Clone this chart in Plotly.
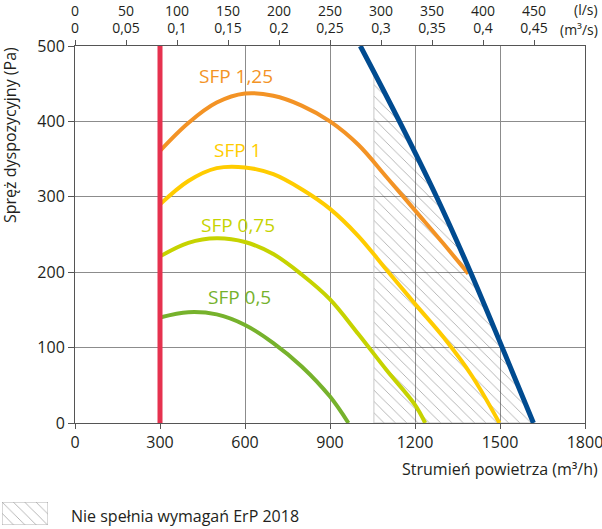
import numpy as np
import plotly.graph_objects as go

# ---------------- data ----------------
x_ticks = [0, 300, 600, 900, 1200, 1500, 1800]
y_ticks = [0, 100, 200, 300, 400, 500]
top_ls_vals = [0, 50, 100, 150, 200, 250, 300, 350, 400, 450]
top_ls_text = ["0", "50", "100", "150", "200", "250", "300", "350", "400", "450"]
top_m3s_text = ["0", "0,05", "0,1", "0,15", "0,2", "0,25", "0,3", "0,35", "0,4", "0,45"]

sfp125_x = [300, 400, 500, 600, 700, 800, 900, 1000, 1100, 1200, 1300, 1388]
sfp125_y = [361, 398, 425, 437, 434, 421, 400, 369, 326, 282, 238, 198]

sfp1_x = [300, 400, 500, 600, 700, 800, 900, 1000, 1100, 1200, 1300, 1400, 1498]
sfp1_y = [290, 321, 338, 339, 330, 310, 284, 248, 203, 158, 114, 63, 0]

sfp075_x = [300, 400, 500, 600, 700, 800, 900, 1000, 1100, 1200, 1236]
sfp075_y = [221, 239, 245, 240, 224, 197, 164, 118, 70, 24, 0]

sfp05_x = [300, 400, 500, 600, 700, 800, 900, 965]
sfp05_y = [140, 147, 144, 130, 106, 75, 35, 0]

max_curve_x = [1007, 1145, 1276, 1396, 1508, 1618]
max_curve_y = [500, 400, 300, 200, 100, 0]

min_flow = 300
erp_limit_flow = 1055

# ---------------- layout constants ----------------
W, H = 602, 529
PL, PR, PT, PB = 75, 585, 46, 423
FONT = "Open Sans"
FS = 16
FS_TOP = 14
TXT = "#231f20"
AX = "#555555"
GRID = "#8c8c8c"

fig = go.Figure()

# hatched area (not meeting ErP 2018)
y_at_limit = float(np.interp(erp_limit_flow, max_curve_x, max_curve_y))
hx = [erp_limit_flow, erp_limit_flow]
hy = [0, y_at_limit]
for xv, yv in zip(max_curve_x, max_curve_y):
    if xv > erp_limit_flow:
        hx.append(xv)
        hy.append(yv)
hx.append(erp_limit_flow)
hy.append(0)

pattern = dict(shape="\\", fgcolor="#4a4a4a", size=8, solidity=0.1)
fig.add_trace(go.Scatter(x=hx, y=hy, fill="toself", mode="lines",
                         line=dict(color="#c8c8c8", width=1),
                         fillcolor="rgba(255,255,255,0)",
                         fillpattern=pattern, showlegend=False, hoverinfo="skip"))

curves = [
    (sfp125_x, sfp125_y, "#f39325"),
    (sfp1_x, sfp1_y, "#ffcc00"),
    (sfp075_x, sfp075_y, "#c6d300"),
    (sfp05_x, sfp05_y, "#76b22c"),
]
for cx, cy, col in curves:
    fig.add_trace(go.Scatter(x=cx, y=cy, mode="lines",
                             line=dict(color=col, width=4, shape="spline", smoothing=1.0),
                             showlegend=False, hoverinfo="skip"))

fig.add_trace(go.Scatter(x=[min_flow, min_flow], y=[y_ticks[0], y_ticks[-1]], mode="lines",
                         line=dict(color="#e6324f", width=5),
                         showlegend=False, hoverinfo="skip"))
fig.add_trace(go.Scatter(x=max_curve_x, y=max_curve_y, mode="lines",
                         line=dict(color="#004b90", width=5, shape="spline", smoothing=1.0),
                         showlegend=False, hoverinfo="skip"))

# invisible traces to activate the two top axes
for ax in ("x2", "x4"):
    fig.add_trace(go.Scatter(x=[top_ls_vals[0]], y=[0], xaxis=ax, yaxis="y", mode="none",
                             showlegend=False, hoverinfo="skip"))

# legend swatch on a mini axis
fig.add_trace(go.Scatter(x=[0, 1, 1, 0, 0], y=[0, 0, 1, 1, 0], xaxis="x3", yaxis="y3",
                         fill="toself", mode="lines", line=dict(color="#b0b0b0", width=1),
                         fillcolor="rgba(255,255,255,0)", fillpattern=pattern,
                         showlegend=False, hoverinfo="skip"))

tickfont = dict(family=FONT, size=FS, color=TXT)
topfont = dict(family=FONT, size=FS_TOP, color=TXT)
common = dict(automargin=False, fixedrange=True, zeroline=False, ticklabeloverflow="allow")

fig.update_layout(
    width=W, height=H,
    margin=dict(l=0, r=0, t=0, b=0, autoexpand=False),
    paper_bgcolor="white", plot_bgcolor="white",
    font=dict(family=FONT, size=FS, color=TXT),
    xaxis=dict(domain=[PL / W, PR / W], range=[0, 1800], tickvals=x_ticks,
               ticktext=[str(v) for v in x_ticks],
               showgrid=True, gridcolor=GRID, gridwidth=1,
               showline=True, linecolor=AX, linewidth=1, ticks="outside", ticklen=5,
               tickcolor=AX, tickfont=tickfont, anchor="y", **common),
    yaxis=dict(domain=[(H - PB) / H, (H - PT) / H], range=[0, 500], tickvals=y_ticks,
               showgrid=True, gridcolor=GRID, gridwidth=1,
               showline=True, linecolor=AX, linewidth=1, mirror=True, ticks="outside",
               ticklen=6, tickcolor=AX, tickfont=tickfont, anchor="x", **common),
    xaxis2=dict(overlaying="x", side="top", anchor="y", range=[0, 500],
                tickvals=top_ls_vals, ticktext=top_m3s_text,
                showgrid=False, showline=True, linecolor=AX, linewidth=1,
                ticks="outside", ticklen=5, tickcolor=AX, tickfont=topfont,
                ticklabelstandoff=1, **common),
    xaxis4=dict(overlaying="x", side="top", anchor="y", range=[0, 500],
                tickvals=top_ls_vals, ticktext=top_ls_text,
                showgrid=False, showline=False, ticks="", tickfont=topfont,
                ticklabelstandoff=26, **common),
    xaxis3=dict(domain=[2 / W, 48 / W], range=[0, 1], visible=False, anchor="y3"),
    yaxis3=dict(domain=[(H - 525) / H, (H - 502) / H], range=[0, 1], visible=False, anchor="x3"),
)

ann = [
    dict(text="Spręż dyspozycyjny (Pa)", textangle=-90, xref="paper", yref="paper",
         x=10 / W, y=(H - 135) / H, xanchor="center", yanchor="middle", showarrow=False),
    dict(text="Strumień powietrza (m³/h)", xref="paper", yref="paper",
         x=600 / W, y=(H - 469) / H, xanchor="right", yanchor="middle", showarrow=False),
    dict(text="(l/s)", xref="paper", yref="paper", font=topfont,
         x=600 / W, y=(H - 10) / H, xanchor="right", yanchor="middle", showarrow=False),
    dict(text="(m³/s)", xref="paper", yref="paper", font=topfont,
         x=600 / W, y=(H - 29.5) / H, xanchor="right", yanchor="middle", showarrow=False),
    dict(text="Nie spełnia wymagań ErP 2018", xref="paper", yref="paper",
         x=69 / W, y=(H - 516) / H, xanchor="left", yanchor="middle", showarrow=False),
]
labels = [
    ("SFP 1,25", 568, 460, "#f39325"),
    ("SFP 1", 575, 362, "#ffcc00"),
    ("SFP 0,75", 575, 263, "#c6d300"),
    ("SFP 0,5", 579, 167, "#76b22c"),
]
for t, lx, ly, col in labels:
    ann.append(dict(text=t, x=lx, y=ly, xref="x", yref="y", showarrow=False,
                    font=dict(family=FONT, size=19, color=col)))
fig.update_layout(annotations=ann)

fig.write_html("out.html")
